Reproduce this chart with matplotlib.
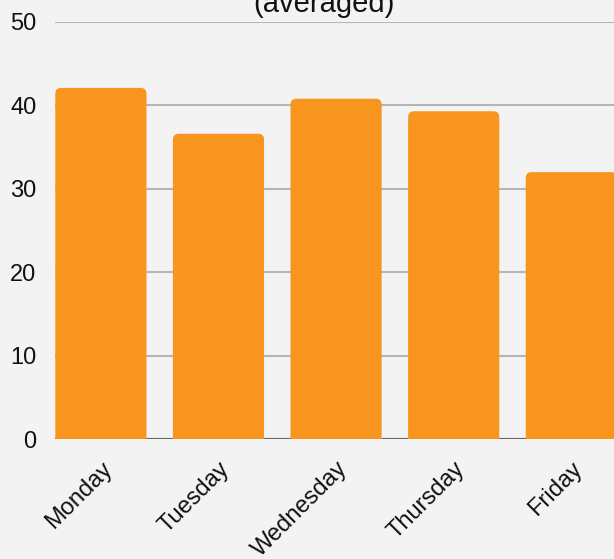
import matplotlib
matplotlib.use("Agg")
import matplotlib.pyplot as plt
import matplotlib.transforms as mtransforms
from matplotlib.patches import FancyBboxPatch

# data
days = ["Monday", "Tuesday", "Wednesday", "Thursday", "Friday"]
values = [42.1, 36.6, 40.8, 39.3, 32.0]
y_ticks = [0, 10, 20, 30, 40, 50]

bg = "#f3f3f3"
bar_color = "#f7951f"
grid_color = "#b5b5b5"

plt.rcParams["font.family"] = ["Liberation Sans", "DejaVu Sans"]

fig = plt.figure(figsize=(6.14, 5.59), dpi=100, facecolor=bg)
ax = fig.add_axes([55 / 614, 1 - 439 / 559, 1 - 55 / 614, (439 - 22) / 559])
ax.set_facecolor(bg)

x = list(range(len(days)))
bars = ax.bar(x, values, width=0.775, color=bar_color, zorder=3)

# swap plain rectangles for ones with rounded top corners
aspect = 14.1
for b in bars:
    b.set_visible(False)
    patch = FancyBboxPatch((b.get_x(), -2), b.get_width(), b.get_height() + 2,
                           boxstyle="round,pad=0,rounding_size=0.05",
                           mutation_aspect=aspect, facecolor=bar_color,
                           edgecolor="none", zorder=3)
    ax.add_patch(patch)

ax.set_ylim(0, 50)
ax.set_xlim(-0.39, 4.363)
ax.set_yticks(y_ticks)
ax.yaxis.grid(True, color=grid_color, linewidth=1.5, zorder=1)
ax.axhline(0, color="#666666", linewidth=1.5, zorder=2)
for s in ax.spines.values():
    s.set_visible(False)

ax.tick_params(axis="y", length=0, pad=13.3, labelsize=17, labelcolor="#111111")
ax.set_xticks(x)
ax.set_xticklabels(days, rotation=45, ha="right", va="center",
                   rotation_mode="anchor", fontsize=17, color="#111111")
ax.tick_params(axis="x", length=0, pad=19)
shift = mtransforms.ScaledTranslation(8 / 100, 0, fig.dpi_scale_trans)
for lbl in ax.get_xticklabels():
    lbl.set_transform(lbl.get_transform() + shift)

# title sits mostly above the visible area
fig.text(324 / 614, 1 - 12 / 559, "(averaged)", ha="center", va="baseline",
         fontsize=21, color="#111111")

fig.savefig("out.png", dpi=100, facecolor=bg)
